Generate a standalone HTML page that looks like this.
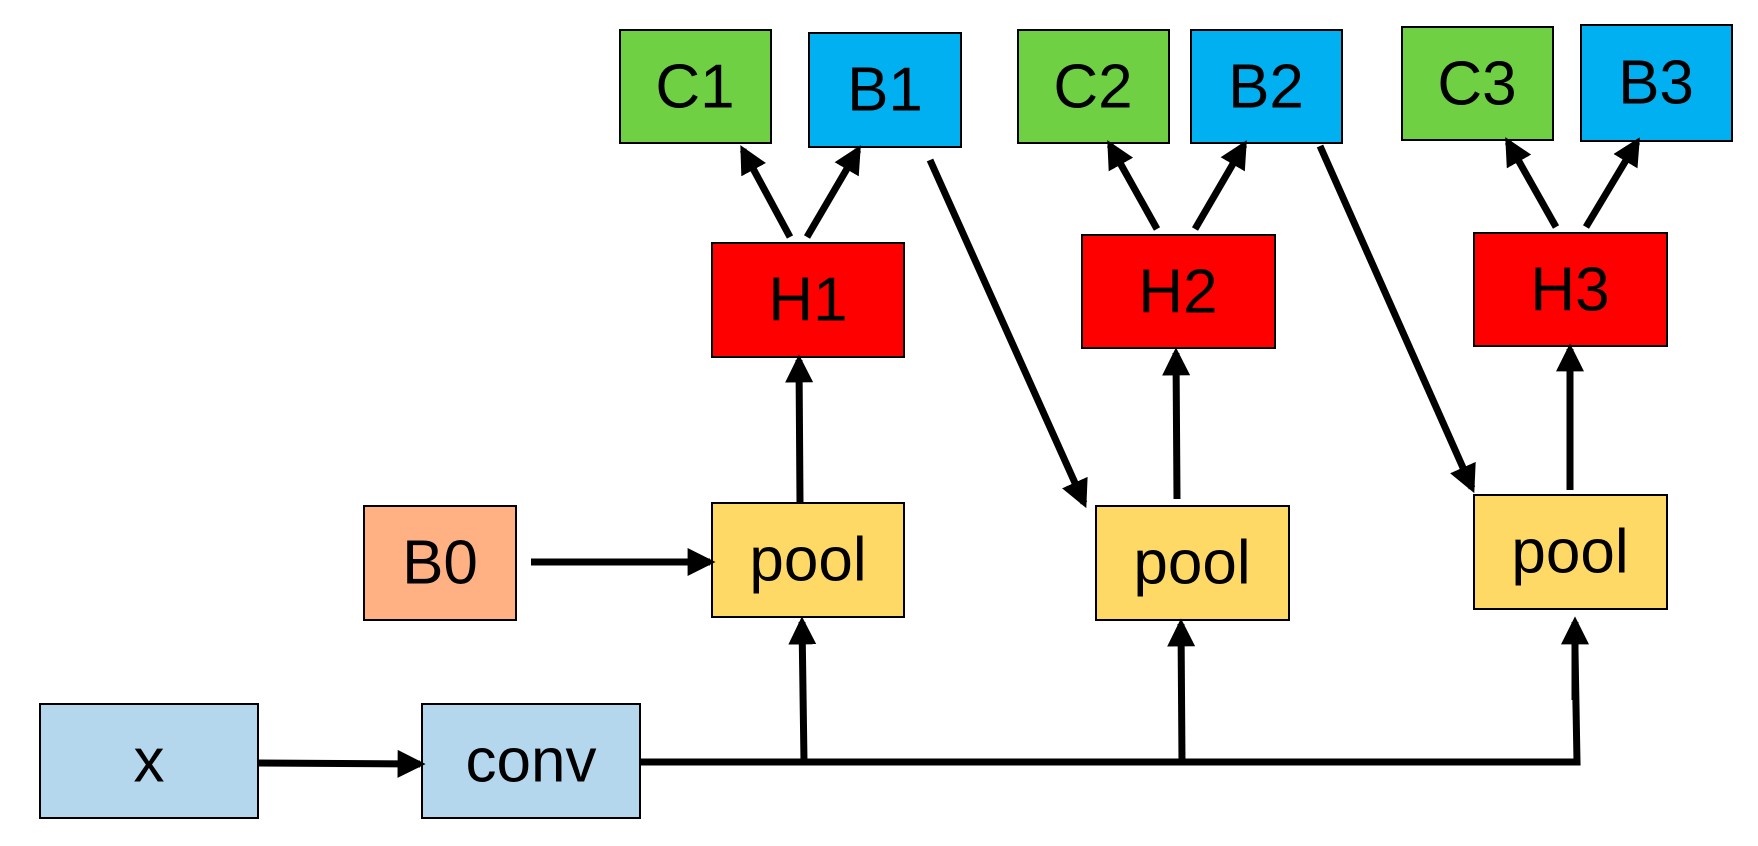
<!DOCTYPE html>
<html><head><style>
html,body{margin:0;padding:0;background:#fff;}
svg{display:block;}
text{font-family:"Liberation Sans",sans-serif;font-size:62px;text-anchor:middle;dominant-baseline:central;fill:#000;}
</style></head><body>
<svg width="1758" height="846" viewBox="0 0 1758 846" xmlns="http://www.w3.org/2000/svg">
<defs>
<marker id="a" markerWidth="4" markerHeight="4" refX="3.2" refY="2" orient="auto" markerUnits="strokeWidth">
<path d="M0,0 L4,2 L0,4 Z" fill="#000"/>
</marker>
</defs>
<g stroke="#000" stroke-width="2">
<rect x="620" y="30" width="151" height="113" fill="#6fd043"/>
<rect x="809" y="33" width="152" height="114" fill="#00b0f0"/>
<rect x="1018" y="30" width="151" height="113" fill="#6fd043"/>
<rect x="1191" y="30" width="151" height="113" fill="#00b0f0"/>
<rect x="1402" y="27" width="151" height="113" fill="#6fd043"/>
<rect x="1581" y="25" width="151" height="116" fill="#00b0f0"/>
<rect x="712" y="243" width="192" height="114" fill="#ff0000"/>
<rect x="1082" y="235" width="193" height="113" fill="#ff0000"/>
<rect x="1474" y="233" width="193" height="113" fill="#ff0000"/>
<rect x="712" y="503" width="192" height="114" fill="#ffd966"/>
<rect x="1096" y="506" width="193" height="114" fill="#ffd966"/>
<rect x="1474" y="495" width="193" height="114" fill="#ffd966"/>
<rect x="364" y="506" width="152" height="114" fill="#ffb183"/>
<rect x="40" y="704" width="218" height="114" fill="#b4d7ee"/>
<rect x="422" y="704" width="218" height="114" fill="#b4d7ee"/>
</g>
<text x="695" y="87">C1</text>
<text x="885" y="90">B1</text>
<text x="1093" y="87">C2</text>
<text x="1266" y="87">B2</text>
<text x="1477" y="84">C3</text>
<text x="1656" y="83">B3</text>
<text x="808" y="300">H1</text>
<text x="1178" y="292">H2</text>
<text x="1570" y="290">H3</text>
<text x="808" y="560">pool</text>
<text x="1192" y="563">pool</text>
<text x="1570" y="552">pool</text>
<text x="440" y="563">B0</text>
<text x="149" y="761">x</text>
<text x="531" y="761">conv</text>
<g stroke="#000" stroke-width="7" fill="none">
<polyline points="640,762 1577,762 1575,650"/>
<line x1="804" y1="762" x2="802" y2="622" marker-end="url(#a)"/>
<line x1="1182" y1="762" x2="1181" y2="624" marker-end="url(#a)"/>
<line x1="1575" y1="700" x2="1575" y2="622" marker-end="url(#a)"/>
<line x1="258" y1="763" x2="420" y2="764" marker-end="url(#a)"/>
<line x1="531" y1="562" x2="710" y2="562" marker-end="url(#a)"/>
<line x1="800" y1="503" x2="799" y2="360" marker-end="url(#a)"/>
<line x1="1177" y1="499" x2="1176" y2="353" marker-end="url(#a)"/>
<line x1="1570" y1="490" x2="1570" y2="349" marker-end="url(#a)"/>
<line x1="790" y1="237" x2="743" y2="150" marker-end="url(#a)"/>
<line x1="807" y1="237" x2="858" y2="150" marker-end="url(#a)"/>
<line x1="1157" y1="229" x2="1110" y2="145" marker-end="url(#a)"/>
<line x1="1195" y1="229" x2="1244" y2="145" marker-end="url(#a)"/>
<line x1="1556" y1="227" x2="1508" y2="142" marker-end="url(#a)"/>
<line x1="1586" y1="227" x2="1637" y2="142" marker-end="url(#a)"/>
<line x1="930" y1="160" x2="1084" y2="503" marker-end="url(#a)"/>
<line x1="1320" y1="146" x2="1472" y2="488" marker-end="url(#a)"/>
</g>
</svg>
</body></html>
